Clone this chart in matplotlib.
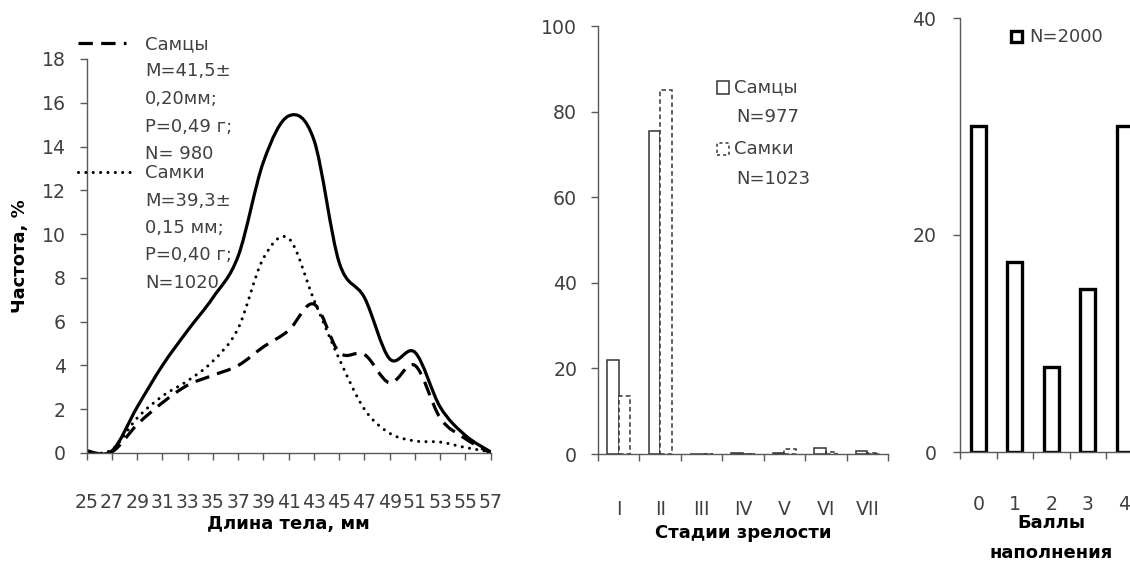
import numpy as np
import matplotlib
matplotlib.use('Agg')
import matplotlib.pyplot as plt
from matplotlib.path import Path
from matplotlib.patches import PathPatch, Rectangle
from matplotlib.lines import Line2D

# Panel 1: length distribution, %
length_mm = [25, 27, 29, 31, 33, 35, 37, 39, 41, 43, 45, 47, 49, 51, 53, 55, 57]
total = [0.1, 0.1, 2.1, 4.0, 5.6, 7.1, 9.0, 13.3, 15.4, 14.3, 8.7, 7.1, 4.3, 4.6, 2.1, 0.8, 0.05]
males = [0.0, 0.05, 1.3, 2.3, 3.1, 3.55, 4.0, 4.85, 5.6, 6.8, 4.6, 4.5, 3.2, 4.0, 1.6, 0.65, 0.0]
females = [0.0, 0.15, 1.6, 2.6, 3.3, 4.2, 5.7, 8.9, 9.8, 7.0, 4.3, 2.0, 0.9, 0.55, 0.5, 0.25, 0.05]

# Panel 2: maturity stages, %
stages = ['I', 'II', 'III', 'IV', 'V', 'VI', 'VII']
males_st = [22.0, 75.5, 0.0, 0.25, 0.25, 1.4, 0.6]
females_st = [13.5, 85.0, 0.0, 0.0, 1.1, 0.4, 0.2]

# Panel 3: stomach fullness, %
scores = ['0', '1', '2', '3', '4']
fullness = [30.0, 17.5, 7.8, 15.0, 30.0]

W, H = 1130, 562
TXT = '#404040'
AX = '#595959'
FS = 13
TFS = 13.6

plt.rcParams['font.family'] = ['DejaVu Sans']


def px(x, y):
    # pixel position -> figure fraction
    return x / W, 1 - y / H


def smooth_line(ax, x, y, **kw):
    # Excel-style smoothed line (Catmull-Rom through the data points)
    pts = np.column_stack([x, y]).astype(float)
    verts = [pts[0]]
    codes = [Path.MOVETO]
    n = len(pts)
    for i in range(n - 1):
        p0 = pts[max(i - 1, 0)]
        p1 = pts[i]
        p2 = pts[i + 1]
        p3 = pts[min(i + 2, n - 1)]
        verts += [p1 + (p2 - p0) / 6, p2 - (p3 - p1) / 6, p2]
        codes += [Path.CURVE4] * 3
    ax.add_patch(PathPatch(Path(verts, codes), fill=False, **kw))


def style_axes(ax, xpad):
    for s in ['top', 'right']:
        ax.spines[s].set_visible(False)
    for s in ['left', 'bottom']:
        ax.spines[s].set_color(AX)
        ax.spines[s].set_linewidth(1)
    ax.tick_params(axis='both', direction='out', color=AX, length=5, width=1,
                   labelsize=TFS, labelcolor=TXT)
    ax.tick_params(axis='x', pad=xpad)


fig = plt.figure(figsize=(W / 100, H / 100), dpi=100)

# ---------- panel 1 ----------
ax1 = fig.add_axes([86.7 / W, (H - 453) / H, 404 / W, 394 / H])
style_axes(ax1, 24)
ax1.set_xlim(25, 57)
ax1.set_ylim(0, 18)
ax1.set_xticks(length_mm)
ax1.set_yticks(range(0, 19, 2))
ax1.tick_params(axis='y', pad=10)

smooth_line(ax1, length_mm, total, color='black', lw=2.3, capstyle='round')
smooth_line(ax1, length_mm, males, color='black', lw=2.3, linestyle=(0, (4.5, 2.6)))
smooth_line(ax1, length_mm, females, color='black', lw=2.2, linestyle=(0, (0.01, 2.4)),
            capstyle='round')

ax1.set_xlabel('Длина тела, мм', fontsize=FS, fontweight='bold', labelpad=2)
fig.text(*px(20, 256), 'Частота, %', rotation=90, ha='center', va='center',
         fontsize=FS, fontweight='bold')

# legend of panel 1
x0, y0 = px(78, 43)
x1, _ = px(126, 43)
fig.add_artist(Line2D([x0, x1], [y0, y0], color='black', lw=2.3,
                      linestyle=(0, (4.5, 2.6))))
x0, y0 = px(78, 172)
x1, _ = px(135, 172)
fig.add_artist(Line2D([x0, x1], [y0, y0], color='black', lw=2.2,
                      linestyle=(0, (0.01, 2.4)), dash_capstyle='round'))
leg1 = ['Самцы', 'M=41,5±', '0,20мм;', 'P=0,49 г;', 'N= 980']
leg2 = ['Самки', 'M=39,3±', '0,15 мм;', 'P=0,40 г;', 'N=1020']
for i, t in enumerate(leg1):
    fig.text(*px(145, 44 + i * 27.5), t, fontsize=FS, color=TXT, va='center')
for i, t in enumerate(leg2):
    fig.text(*px(145, 173 + i * 27.5), t, fontsize=FS, color=TXT, va='center')

# ---------- panel 2 ----------
ax2 = fig.add_axes([598 / W, (H - 454) / H, 290 / W, 428 / H])
style_axes(ax2, 24)
ax2.tick_params(axis='y', pad=10)
ax2.set_xlim(-0.5, len(stages) - 0.5)
ax2.set_ylim(0, 100)
ax2.set_yticks(range(0, 101, 20))
pos = np.arange(len(stages))
bw = 0.28
ax2.bar(pos - bw / 2, males_st, bw, color='white', edgecolor='#333333', lw=1.1)
ax2.bar(pos + bw / 2, females_st, bw, color='white', edgecolor='#333333', lw=1.1,
        linestyle=(0, (3, 2)))
ax2.set_xticks(np.arange(-0.5, len(stages), 1))
ax2.set_xticklabels([])
ax2.set_xticks(pos, minor=True)
ax2.set_xticklabels(stages, minor=True)
ax2.tick_params(axis='x', which='minor', length=0, pad=33, labelsize=TFS, labelcolor=TXT)
ax2.set_xlabel('Стадии зрелости', fontsize=FS, fontweight='bold', labelpad=4)

fig.add_artist(Rectangle(px(716.5, 93.5), 12.5 / W, 12 / H, facecolor='white',
                         edgecolor='#333333', lw=1.1))
fig.add_artist(Rectangle(px(716.5, 155), 12.5 / W, 12 / H, facecolor='white',
                         edgecolor='#333333', lw=1.1, linestyle=(0, (2, 2))))
fig.text(*px(734, 87), 'Самцы', fontsize=FS, color=TXT, va='center')
fig.text(*px(736, 117), 'N=977', fontsize=FS, color=TXT, va='center')
fig.text(*px(734, 149), 'Самки', fontsize=FS, color=TXT, va='center')
fig.text(*px(736, 179), 'N=1023', fontsize=FS, color=TXT, va='center')

# ---------- panel 3 ----------
ax3 = fig.add_axes([960 / W, (H - 452) / H, 182.5 / W, 434 / H])
style_axes(ax3, 24)
ax3.tick_params(axis='y', pad=12)
ax3.set_xlim(-0.5, len(scores) - 0.5)
ax3.set_ylim(0, 40)
ax3.set_yticks([0, 20, 40])
pos3 = np.arange(len(scores))
ax3.bar(pos3, fullness, 0.4, color='white', edgecolor='black', lw=2.4)
ax3.set_xticks(np.arange(-0.5, len(scores), 1))
ax3.set_xticklabels([])
ax3.set_xticks(pos3, minor=True)
ax3.set_xticklabels(scores, minor=True)
ax3.tick_params(axis='x', which='minor', length=0, pad=31, labelsize=TFS, labelcolor=TXT)
fig.text(*px(1051, 523), 'Баллы', ha='center', va='center', fontsize=FS,
         fontweight='bold')
fig.text(*px(1051, 553), 'наполнения', ha='center', va='center', fontsize=FS,
         fontweight='bold')

fig.add_artist(Rectangle(px(1011, 42), 11 / W, 11 / H, facecolor='white',
                         edgecolor='black', lw=2.4))
fig.text(*px(1029, 37), 'N=2000', fontsize=FS, color=TXT, va='center')

fig.savefig('out.png', dpi=100)
